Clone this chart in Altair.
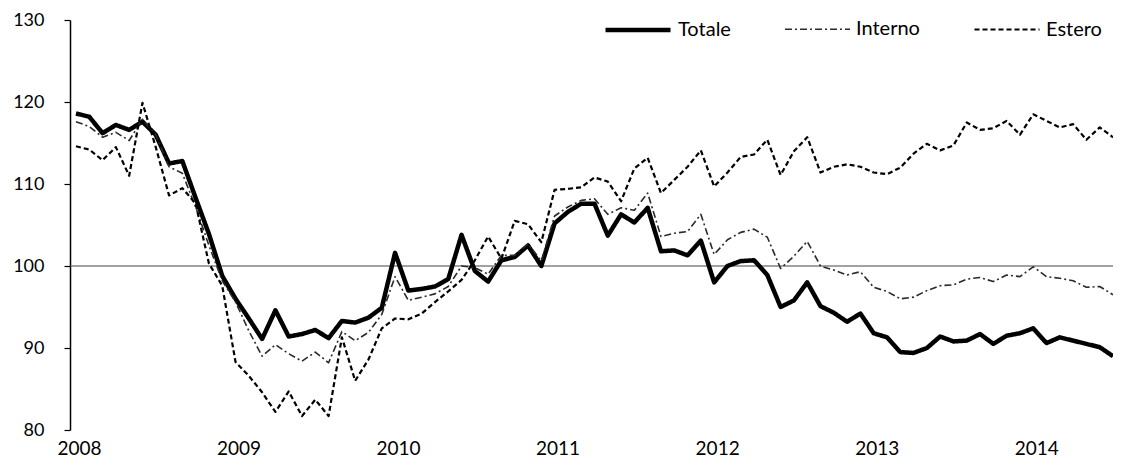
import altair as alt
import pandas as pd

# ---- data (monthly, Jan 2008 .. Jul 2014) ----
serie = ["Totale", "Interno", "Estero"]
anni = [2008, 2009, 2010, 2011, 2012, 2013, 2014]
valori_y = [80, 90, 100, 110, 120, 130]
riferimento = [100]

totale = [118.6, 118.2, 116.2, 117.2, 116.6, 117.6, 116.0, 112.5, 112.8, 108.3,
          103.9, 98.8, 96.0, 93.6, 91.1, 94.6, 91.4, 91.7, 92.2, 91.2,
          93.3, 93.1, 93.7, 94.9, 101.6, 97.0, 97.2, 97.5, 98.4, 103.8,
          99.4, 98.1, 100.7, 101.1, 102.5, 100.0, 105.2, 106.6, 107.6, 107.6,
          103.7, 106.3, 105.3, 107.1, 101.8, 101.9, 101.3, 103.1, 98.0, 100.0,
          100.6, 100.7, 98.9, 95.0, 95.8, 98.0, 95.1, 94.3, 93.2, 94.2,
          91.8, 91.3, 89.5, 89.4, 90.0, 91.4, 90.8, 90.9, 91.7, 90.5,
          91.5, 91.8, 92.4, 90.6, 91.3, 90.9, 90.5, 90.1, 89.0]

interno = [117.6, 117.0, 115.7, 116.3, 115.3, 117.9, 116.0, 112.1, 111.3, 107.2,
           102.5, 98.2, 95.6, 92.1, 89.0, 90.4, 89.3, 88.4, 89.5, 88.2,
           92.0, 90.9, 91.9, 94.1, 98.7, 95.8, 96.2, 96.6, 97.5, 100.0,
           99.8, 99.0, 101.3, 101.3, 102.7, 100.6, 106.1, 107.2, 108.0, 108.2,
           106.3, 107.1, 106.8, 108.9, 103.6, 104.0, 104.2, 106.3, 101.4, 103.2,
           104.1, 104.5, 103.5, 99.7, 101.2, 103.0, 100.0, 99.5, 98.9, 99.3,
           97.4, 96.9, 96.0, 96.2, 97.0, 97.6, 97.7, 98.4, 98.6, 98.1,
           98.9, 98.7, 99.9, 98.7, 98.5, 98.2, 97.4, 97.5, 96.5]

estero = [114.6, 114.2, 112.9, 114.5, 111.0, 119.9, 114.5, 108.6, 109.5, 107.6,
          100.3, 97.6, 88.3, 86.6, 84.6, 82.2, 84.7, 81.7, 83.7, 81.7,
          91.3, 86.0, 88.6, 92.4, 93.6, 93.5, 94.2, 95.6, 96.9, 98.3,
          100.7, 103.6, 100.9, 105.5, 105.1, 102.9, 109.3, 109.4, 109.6, 110.8,
          110.3, 107.9, 111.9, 113.2, 108.9, 110.5, 112.1, 114.1, 109.7, 111.4,
          113.3, 113.6, 115.4, 111.1, 114.0, 115.7, 111.4, 112.1, 112.4, 112.1,
          111.4, 111.2, 112.0, 113.7, 114.9, 114.1, 114.7, 117.5, 116.6, 116.8,
          117.7, 116.0, 118.5, 117.7, 116.9, 117.3, 115.4, 116.9, 115.7]

rows = []
for nome, vals in zip(serie, [totale, interno, estero]):
    for i, v in enumerate(vals):
        rows.append({"mese": i, "valore": v, "serie": nome})
df = pd.DataFrame(rows)

tick_mesi = [(a - anni[0]) * 12 for a in anni]

FONT = "Lato"

legenda = alt.Legend(
    title=None, orient="none", direction="horizontal",
    legendX=533, legendY=-25, padding=0,
    symbolType="stroke", symbolSize=4225,
    labelFont=FONT, labelFontSize=20, labelColor="black",
    labelOffset=5, columnPadding=50,
)

x = alt.X(
    "mese:Q",
    scale=alt.Scale(domain=[-0.45, 78], nice=False, zero=False),
    axis=alt.Axis(values=tick_mesi, labelExpr="'' + (2008 + datum.value / 12)",
                  title=None, grid=False, domain=False, ticks=False,
                  labelFont=FONT, labelFontSize=19, labelColor="black",
                  labelPadding=9, labelOffset=3),
)
y = alt.Y(
    "valore:Q",
    scale=alt.Scale(domain=[80, 130], nice=False, zero=False),
    axis=alt.Axis(values=valori_y, title=None, grid=False,
                  domainColor="black", domainWidth=1.5,
                  tickColor="black", tickSize=6, tickWidth=1.2,
                  labelFont=FONT, labelFontSize=18, labelColor="black",
                  labelPadding=20),
)

linee = alt.Chart(df).mark_line(strokeJoin="round", clip=True).encode(
    x=x,
    y=y,
    color=alt.Color("serie:N", scale=alt.Scale(domain=serie, range=["black", "#2a2a2a", "black"]),
                    legend=legenda),
    strokeDash=alt.StrokeDash("serie:N", scale=alt.Scale(domain=serie, range=[[1, 0], [7, 3, 2, 3], [5, 3]]),
                              legend=legenda),
    strokeWidth=alt.StrokeWidth("serie:N", scale=alt.Scale(type="ordinal", domain=serie, range=[4.5, 1.6, 2.2]),
                                legend=legenda),
    detail="serie:N",
)

rif = alt.Chart(pd.DataFrame({"rif": riferimento})).mark_rule(color="#444444", strokeWidth=1).encode(
    y=alt.Y("rif:Q", scale=alt.Scale(domain=[80, 130], nice=False, zero=False))
)

chart = alt.layer(rif, linee).properties(
    width=1043, height=410,
    autosize=alt.AutoSizeParams(type="none"),
    padding={"left": 62, "top": 12, "right": 0, "bottom": 40},
    background="white",
).configure_view(stroke=None)

chart.save("out.html", embed_options={"renderer": "svg", "actions": False})
